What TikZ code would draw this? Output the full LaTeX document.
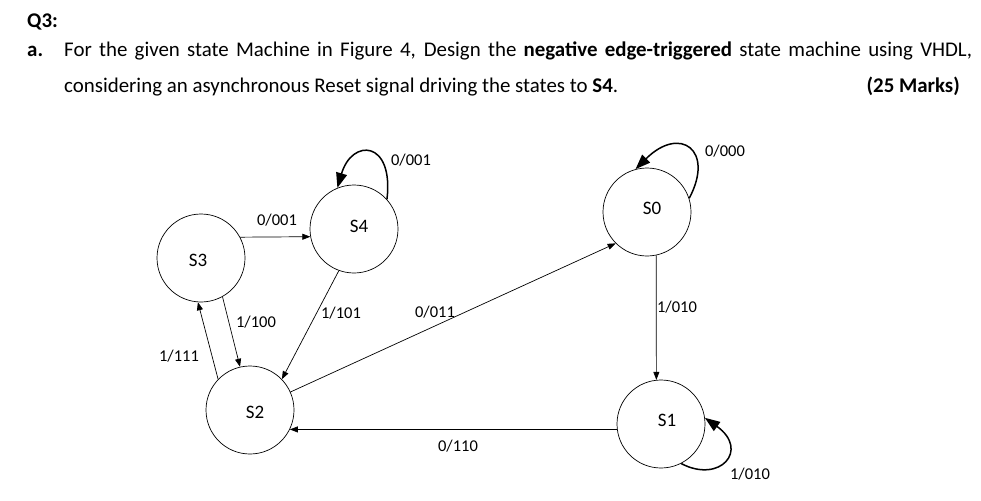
\documentclass[tikz,border=0pt]{standalone}
\usepackage{fontspec}
\setmainfont{Carlito}
\usetikzlibrary{arrows.meta,calc}
\begin{document}
\begin{tikzpicture}[x=1pt,y=-1pt,
  state/.style={draw,circle,minimum size=88pt,inner sep=0pt,line width=0.7pt},
  edge/.style={draw,line width=0.7pt,-{Triangle[length=8pt,width=6pt]}},
  loopedge/.style={draw,line width=1.5pt,-{Triangle[length=15pt,width=11pt]}},
  lbl/.style={font=\fontsize{16.5}{18}\selectfont,inner sep=0pt},
  hdr/.style={font=\fontsize{20.9}{24}\selectfont,inner sep=0pt,anchor=base west}]
\useasboundingbox (0,0) rectangle (981,500);
% header
\node[hdr] (q) at (27,28) {\textbf{Q3:}};
\node[hdr] (a) at (27,57) {\textbf{a.}};
\node[hdr] (l1) at (64,57) {\makebox[908pt][s]{For the given state Machine in Figure 4, Design the \textbf{negative edge-triggered} state machine using VHDL,}};
\node[hdr] (l2) at (64,93) {considering an asynchronous Reset signal driving the states to \textbf{S4}.};
\node[hdr,anchor=base east] (mk) at (960,93) {\textbf{(25 Marks)}};
% states
\node[state,label={[font=\fontsize{19}{22}\selectfont,xshift=-3pt,yshift=-2pt]center:S3}] (S3) at (201,258) {};
\node[state,label={[font=\fontsize{19}{22}\selectfont,xshift=5pt,yshift=3pt]center:S4}] (S4) at (354,229) {};
\node[state,label={[font=\fontsize{19}{22}\selectfont,xshift=5pt,yshift=-2pt]center:S2}] (S2) at (250,410) {};
\node[state,label={[font=\fontsize{19}{22}\selectfont,xshift=5pt,yshift=4pt]center:S0}] (S0) at (647,212) {};
\node[state,label={[font=\fontsize{19}{22}\selectfont,xshift=6pt,yshift=4pt]center:S1}] (S1) at (661,424) {};
% transitions
\draw[edge] (S3.28) -- (S4.190);
\draw[edge] (S3.-61) -- (S2.103);
\draw[edge] (S2.136) -- (S3.-94);
\draw[edge] (S4.250) -- (S2.44);
\draw[edge] (S2.24) -- (S0.225);
\draw[edge] (S0.-78) -- (S1.96);
\draw[edge] (S1.187) -- (S2.-26);
% self loops
\draw[loopedge] (S4.42) .. controls (394,140) and (352,138) .. (S4.112);
\draw[loopedge] (S0.18) .. controls (715,150) and (680,125) .. (S0.105);
\draw[loopedge] (S1.-63) .. controls (720,484) and (750,450) .. (S1.8);
% labels
\node[lbl] (t1) at (277,220) {0/001};
\node[lbl] (t2) at (256,322) {1/100};
\node[lbl] (t3) at (179,356) {1/111};
\node[lbl] (t4) at (341,313) {1/101};
\node[lbl] (t5) at (435,312) {0/011};
\node[lbl] (t6) at (677,307) {1/010};
\node[lbl] (t7) at (458,446) {0/110};
\node[lbl] (t8) at (411,160) {0/001};
\node[lbl] (t9) at (725,151) {0/000};
\node[lbl] (t10) at (750,474) {1/010};
\end{tikzpicture}
\end{document}
